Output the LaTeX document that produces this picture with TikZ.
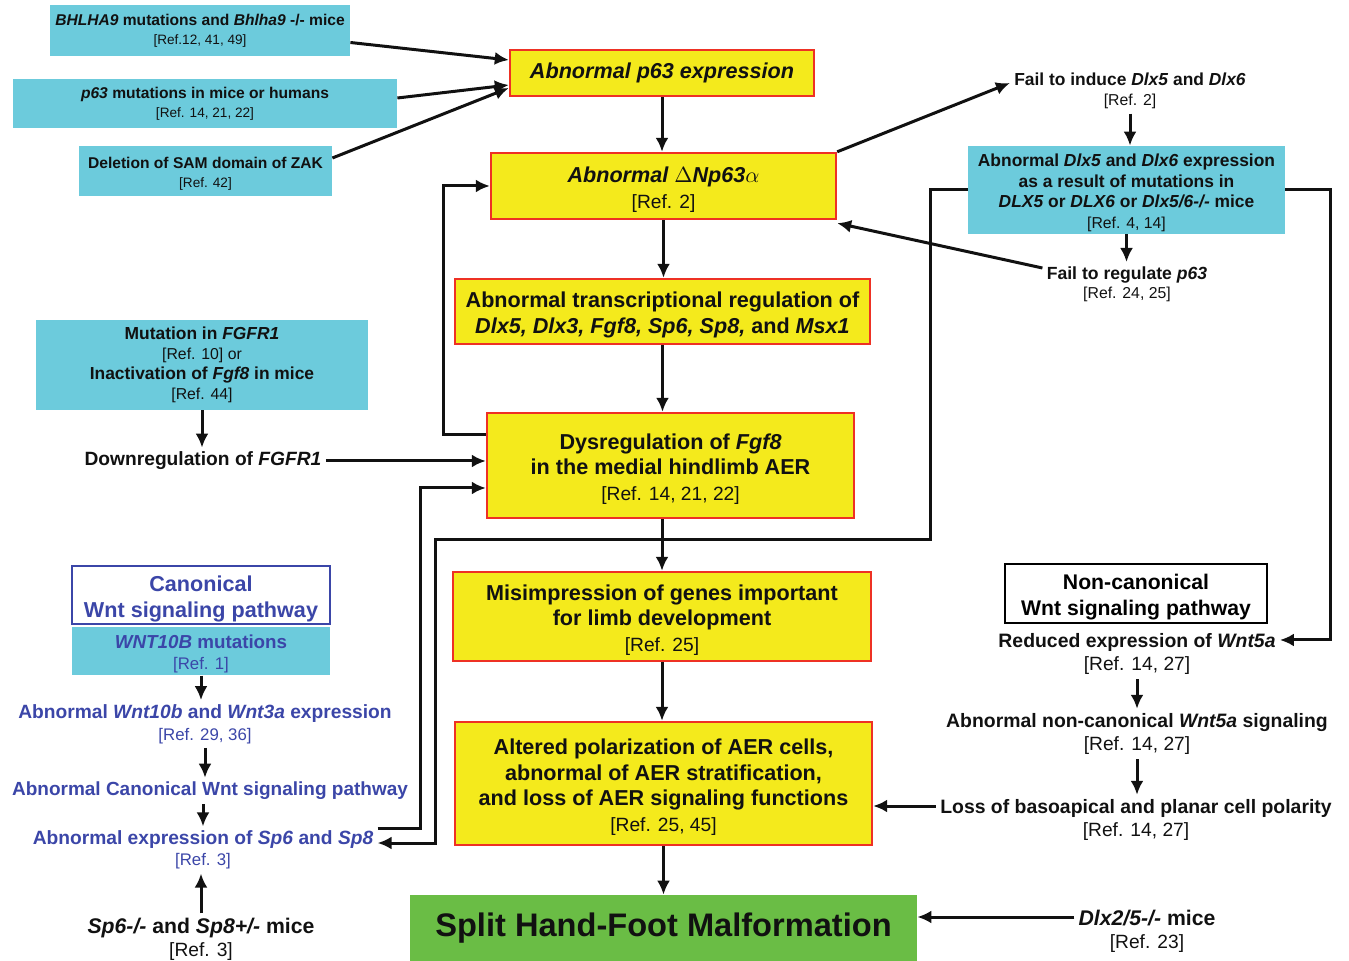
\documentclass[tikz,border=0pt]{standalone}
\usepackage{fontspec}
\setmainfont{Liberation Sans}
\usepackage{xcolor}
\usepackage{tikz}
\usetikzlibrary{positioning, arrows.meta, calc}
\definecolor{cCyan}{HTML}{6CCBDC}
\definecolor{cYellow}{HTML}{F4EA1C}
\definecolor{cRed}{HTML}{EE3124}
\definecolor{cGreen}{HTML}{6ABD45}
\definecolor{cBlue}{HTML}{3B46A8}
\definecolor{nInk}{HTML}{111111}
\newcommand{\keyfont}{\fontsize{10.8}{12.8}\selectfont\bfseries}
\newcommand{\causefont}{\fontsize{7.8}{9.5}\selectfont\bfseries}
\newcommand{\midfont}{\fontsize{8.7}{10.2}\selectfont\bfseries}
\newcommand{\sidefont}{\fontsize{9.7}{11.8}\selectfont\bfseries}
\newcommand{\wntfont}{\fontsize{9.6}{10.8}\selectfont\bfseries}
\newcommand{\rfA}[1]{{\fontsize{6.8}{8}\selectfont\mdseries #1}}
\newcommand{\rfB}[1]{{\fontsize{7.9}{9}\selectfont\mdseries #1}}
\newcommand{\rfC}[1]{{\fontsize{8.4}{10}\selectfont\mdseries #1}}
\newcommand{\rfD}[1]{{\fontsize{9.6}{11}\selectfont\mdseries #1}}
% taller first line, pushes box text down a little
\newcommand{\tp}{\rule{0pt}{1.05em}}
\tikzset{
  keybox/.style={draw=cRed, fill=cYellow, line width=1.2pt, inner sep=1pt,
    align=center, font=\keyfont, text=nInk},
  causebox/.style={fill=cCyan, inner sep=1pt, align=center, font=\causefont, text=nInk},
  pathbox/.style={draw, fill=white, line width=1pt, inner sep=1pt, align=center,
    font=\fontsize{10.8}{13}\selectfont\bfseries},
  sidetxt/.style={inner sep=2pt, align=center, font=\sidefont, text=nInk},
  wnttxt/.style={inner sep=2pt, align=center, font=\wntfont, text=cBlue},
  flow/.style={line width=1.5pt, draw=nInk, -{Latex[length=7pt,width=6.5pt]}},
}

\begin{document}
\begin{tikzpicture}[x=0.5pt, y=-0.5pt]
\useasboundingbox (0,0) rectangle (1349,961);

% central chain
\node[keybox, minimum width=152pt, minimum height=23pt] (p63exp) at (662,73)
  {\itshape Abnormal p63 expression};
\node[keybox, minimum width=172.5pt, minimum height=33pt] (dnp63) at (663.5,186)
  {\tp{\itshape Abnormal $\Delta$Np63$\alpha$}\\ \rfD{[Ref. 2]}};
\node[keybox, minimum width=207.5pt, minimum height=32.5pt] (trans) at (662.5,311.5)
  {\tp Abnormal transcriptional regulation of\\ \textit{Dlx5, Dlx3, Fgf8, Sp6, Sp8,} and \textit{Msx1}};
\node[keybox, minimum width=183.5pt, minimum height=52.5pt] (dysreg) at (670.5,465.5)
  {\tp Dysregulation of \textit{Fgf8}\\ in the medial hindlimb AER\\ \rfD{[Ref. 14, 21, 22]}};
\node[keybox, minimum width=209pt, minimum height=44.5pt] (misimp) at (662,616.5)
  {\tp Misimpression of genes important\\ for limb development\\ \rfD{[Ref. 25]}};
\node[keybox, minimum width=208.5pt, minimum height=61.5pt] (altered) at (663.5,783.5)
  {\tp Altered polarization of AER cells,\\ abnormal of AER stratification,\\ and loss of AER signaling functions\\ \rfD{[Ref. 25, 45]}};
\node[fill=cGreen, minimum width=253.5pt, minimum height=33pt, inner sep=1pt,
  font=\fontsize{16.3}{18}\selectfont\bfseries, text=nInk] (shfm) at (663.5,928)
  {Split Hand-Foot Malformation};

% upstream causes
\node[causebox, minimum width=150pt, minimum height=25.5pt] (bhlha) at (200,30.5)
  {\textit{BHLHA9} mutations and \textit{Bhlha9} -/- mice\\ \rfA{[Ref.12, 41, 49]}};
\node[causebox, minimum width=192pt, minimum height=24.5pt] (p63mut) at (205,103.5)
  {\textit{p63} mutations in mice or humans\\ \rfA{[Ref. 14, 21, 22]}};
\node[causebox, minimum width=126.5pt, minimum height=25pt] (zak) at (205.5,171)
  {\tp Deletion of SAM domain of ZAK\\ \rfA{[Ref. 42]}};
\node[causebox, minimum width=166pt, minimum height=45pt, font=\fontsize{8.7}{10}\selectfont\bfseries]
  (fgfr) at (202,365)
  {Mutation in \textit{FGFR1}\\ \rfB{[Ref. 10] or}\\ Inactivation of \textit{Fgf8} in mice\\ \rfB{[Ref. 44]}};
\node[sidetxt, font=\fontsize{9.6}{11}\selectfont\bfseries] (downfgfr) at (203,461)
  {Downregulation of \textit{FGFR1}};

% Dlx branch
\node[sidetxt, font=\midfont] (failinduce) at (1130,91)
  {Fail to induce \textit{Dlx5} and \textit{Dlx6}\\ \rfB{[Ref. 2]}};
\node[causebox, minimum width=158.5pt, minimum height=44pt,
  font=\fontsize{8.7}{10.3}\selectfont\bfseries] (dlx) at (1126.5,190)
  {\tp Abnormal \textit{Dlx5} and \textit{Dlx6} expression\\ as a result of mutations in\\
   \textit{DLX5} or \textit{DLX6} or \textit{Dlx5/6-/-} mice\\ \rfB{[Ref. 4, 14]}};
\node[sidetxt, font=\fontsize{8.8}{9.6}\selectfont\bfseries] (failreg) at (1127,284)
  {Fail to regulate \textit{p63}\\ \rfB{[Ref. 24, 25]}};

% canonical Wnt
\node[pathbox, draw=cBlue, text=cBlue, minimum width=129pt, minimum height=29pt] (canon) at (201,595)
  {\tp Canonical\\ Wnt signaling pathway};
\node[causebox, text=cBlue, minimum width=129pt, minimum height=24pt,
  font=\fontsize{9.4}{10.5}\selectfont\bfseries] (wnt10b) at (201,651)
  {\tp\textit{WNT10B} mutations\\ \rfC{[Ref. 1]}};
\node[wnttxt] (abnwnt) at (205,724)
  {Abnormal \textit{Wnt10b} and \textit{Wnt3a} expression\\ \rfC{[Ref. 29, 36]}};
\node[wnttxt, font=\fontsize{9.5}{10.8}\selectfont\bfseries] (abncanon) at (210,791)
  {Abnormal Canonical Wnt signaling pathway};
\node[wnttxt, font=\fontsize{9.6}{10.5}\selectfont\bfseries] (abnsp) at (203,850)
  {Abnormal expression of \textit{Sp6} and \textit{Sp8}\\ \rfC{[Ref. 3]}};
\node[sidetxt, font=\fontsize{10.6}{11.5}\selectfont\bfseries] (sp6mice) at (201,939)
  {\textit{Sp6-/-} and \textit{Sp8+/-} mice\\ \rfD{[Ref. 3]}};

% non-canonical Wnt
\node[pathbox, minimum width=131pt, minimum height=29.5pt,
  font=\fontsize{10.6}{13}\selectfont\bfseries] (noncanon) at (1136,593.5)
  {\tp Non-canonical\\ Wnt signaling pathway};
\node[sidetxt] (reduced) at (1137,654)
  {Reduced expression of \textit{Wnt5a}\\ \rfD{[Ref. 14, 27]}};
\node[sidetxt] (noncsig) at (1137,734)
  {Abnormal non-canonical \textit{Wnt5a} signaling\\ \rfD{[Ref. 14, 27]}};
\node[sidetxt] (lossbaso) at (1136,820)
  {Loss of basoapical and planar cell polarity\\ \rfD{[Ref. 14, 27]}};
\node[sidetxt, font=\fontsize{10.6}{11.5}\selectfont\bfseries] (dlx25) at (1147,931)
  {\textit{Dlx2/5-/-} mice\\ \rfD{[Ref. 23]}};

% connectors
\draw[flow] ([yshift=-6pt]bhlha.east) -- ([yshift=6.5pt]p63exp.west);
\draw[flow] ([yshift=2.75pt]p63mut.east) -- ([yshift=-6pt]p63exp.west);
\draw[flow] ([yshift=6.5pt]zak.east) -- ([yshift=-7.5pt]p63exp.west);
\draw[flow] (p63exp.south) -- (p63exp.south |- dnp63.north);
\draw[flow] (dnp63.south) -- (dnp63.south |- trans.north);
\draw[flow] (trans.south) -- (trans.south |- dysreg.north);
\draw[flow] (misimp.north |- dysreg.south) -- (misimp.north);
\draw[flow] (misimp.south) -- (misimp.south |- altered.north);
\draw[flow] (altered.south) -- (altered.south |- shfm.north);
\draw[flow] ([yshift=15.25pt]dysreg.west) -| ([xshift=-23pt]dnp63.west) -- (dnp63.west);
\draw[flow] (fgfr.south) -- (fgfr.south |- downfgfr.north);
\draw[flow] (downfgfr.east) -- (dysreg.west |- downfgfr.east);
\draw[flow] (dnp63.north east) -- ([yshift=4pt]failinduce.west);
\draw[flow] (failinduce.south) -- (failinduce.south |- dlx.north);
\draw[flow] (dlx.south) -- (dlx.south |- failreg.north);
\draw[flow] ([yshift=8pt]failreg.west) -- ([yshift=-1.5pt]dnp63.south east);
\draw[flow] (dlx.west) -| (930,540) -| (435,843) -- ([yshift=3.5pt]abnsp.east);
\draw[flow] ([yshift=11pt]abnsp.east) -| (420,488) -- ([yshift=-11.25pt]dysreg.west);
\draw[flow] (dlx.east) -- ++(45,0) |- ([yshift=7pt]reduced.east);
\draw[flow] (wnt10b.south) -- (wnt10b.south |- abnwnt.north);
\draw[flow] (abnwnt.south) -- (abnwnt.south |- abncanon.north);
\draw[flow] (abncanon.south -| abnsp.north) -- (abnsp.north);
\draw[flow] (sp6mice.north) -- (sp6mice.north |- abnsp.south);
\draw[flow] (reduced.south) -- (reduced.south |- noncsig.north);
\draw[flow] (noncsig.south) -- (noncsig.south |- lossbaso.north);
\draw[flow] ([yshift=7pt]lossbaso.west) -- ($(altered.east |- lossbaso.west)+(0,-14)$);
\draw[flow] ([yshift=7pt]dlx25.west) -- ($(shfm.east |- dlx25.west)+(0,-14)$);
\end{tikzpicture}
\end{document}
